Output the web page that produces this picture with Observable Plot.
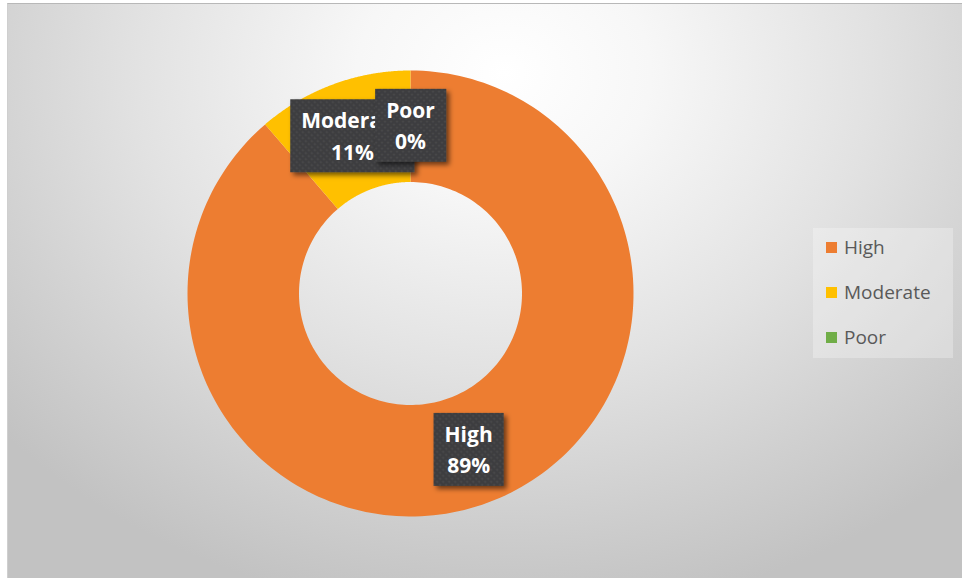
<!DOCTYPE html>
<html>
<head>
<meta charset="utf-8">
<script src="https://cdn.jsdelivr.net/npm/d3@7"></script>
<script src="https://cdn.jsdelivr.net/npm/@observablehq/plot@0.6"></script>
<style>
  html, body { margin: 0; padding: 0; background: #ffffff; }
  #wrap { position: relative; width: 962px; height: 578px; overflow: hidden; }
  #bg { position: absolute; left: 7px; top: 3px; width: 955px; height: 575px;
        border-top: 1px solid #b8b8b8; border-left: 1px solid #cfcfcf; box-sizing: border-box;
        background: radial-gradient(ellipse 70% 95% at 52% 12%, #ffffff 0%, #f7f7f7 22%, #e2e2e2 55%, #d0d0d0 80%, #c2c2c2 100%); }
  #chart { position: absolute; left: 0; top: 0; }
  #legend { position: absolute; left: 813px; top: 228px; width: 140px; height: 130px;
            background: rgba(255,255,255,0.28); font-family: "Open Sans", sans-serif; font-size: 19px; color: #595959; }
  .item { position: absolute; left: 13px; display: flex; align-items: center; height: 26px; }
  .sw { width: 11px; height: 11px; margin-right: 7px; }
</style>
</head>
<body>
<div id="wrap">
  <div id="bg"></div>
  <div id="chart"></div>
  <div id="legend"></div>
</div>
<script>
const categories = ["High", "Moderate", "Poor"];
const values = [88.7, 11.3, 0];
const colors = ["#ED7D31", "#FFC000", "#70AD47"];

const innerR = 0.5, outerR = 1, labelR = 0.75;
const total = d3.sum(values);
const arcs = d3.pie().sort(null).value(d => d)(values);

const ringPts = [];
arcs.forEach((a, k) => {
  if (a.endAngle - a.startAngle <= 0) return;
  const N = 200;
  for (let i = 0; i <= N; i++) {
    const t = a.startAngle + (a.endAngle - a.startAngle) * i / N;
    ringPts.push({category: categories[k], x: outerR * Math.sin(t), y: outerR * Math.cos(t)});
  }
  for (let i = N; i >= 0; i--) {
    const t = a.startAngle + (a.endAngle - a.startAngle) * i / N;
    ringPts.push({category: categories[k], x: innerR * Math.sin(t), y: innerR * Math.cos(t)});
  }
});

const labels = arcs.map((a, k) => {
  const m = (a.startAngle + a.endAngle) / 2;
  return {
    category: categories[k],
    x: labelR * Math.sin(m),
    y: labelR * Math.cos(m),
    label: `${categories[k]}\n${Math.round(values[k] / total * 100)}%`
  };
});

const chart = Plot.plot({
  width: 962,
  height: 578,
  marginLeft: 187, marginRight: 329, marginTop: 70, marginBottom: 62,
  x: {domain: [-1, 1], axis: null},
  y: {domain: [-1, 1], axis: null},
  color: {domain: categories, range: colors},
  style: {background: "transparent", overflow: "visible", fontFamily: "Open Sans"},
  marks: [
    Plot.line(ringPts, {x: "x", y: "y", z: "category", fill: "category", stroke: "none", curve: "linear"}),
    Plot.text(labels, {x: "x", y: "y", text: "label", fill: "white", fontSize: 21, fontWeight: "bold",
                       fontFamily: "Open Sans", lineHeight: 1.5, dy: -3})
  ]
});
document.getElementById("chart").appendChild(chart);

// label boxes with texture and shadow
const NS = "http://www.w3.org/2000/svg";
const defs = document.createElementNS(NS, "defs");
defs.innerHTML = `
  <pattern id="tex" width="6" height="6" patternUnits="userSpaceOnUse">
    <rect width="6" height="6" fill="#3d3d3f"></rect>
    <circle cx="1.5" cy="1.5" r="1" fill="#4c4c4e"></circle>
    <circle cx="4.5" cy="4.5" r="1" fill="#4c4c4e"></circle>
  </pattern>
  <filter id="shd" x="-20%" y="-20%" width="150%" height="150%">
    <feDropShadow dx="3" dy="3" stdDeviation="2.5" flood-color="#000" flood-opacity="0.55"></feDropShadow>
  </filter>`;
chart.insertBefore(defs, chart.firstChild);

chart.querySelectorAll('g[aria-label="text"] text').forEach(t => {
  const b = t.getBBox();
  const r = document.createElementNS(NS, "rect");
  const cy = b.y + b.height / 2;
  r.setAttribute("x", b.x - 11);
  r.setAttribute("y", cy - 36.5);
  r.setAttribute("width", b.width + 22);
  r.setAttribute("height", 73);
  r.setAttribute("fill", "url(#tex)");
  r.setAttribute("stroke", "none");
  r.setAttribute("filter", "url(#shd)");
  const tr = t.getAttribute("transform");
  if (tr) r.setAttribute("transform", tr);
  t.parentNode.insertBefore(r, t);
});

// legend
const leg = document.getElementById("legend");
categories.forEach((c, i) => {
  const it = document.createElement("div");
  it.className = "item";
  it.style.top = (6 + i * 45) + "px";
  const sw = document.createElement("span");
  sw.className = "sw";
  sw.style.background = colors[i];
  const tx = document.createElement("span");
  tx.textContent = c;
  it.appendChild(sw); it.appendChild(tx);
  leg.appendChild(it);
});
</script>
</body>
</html>
